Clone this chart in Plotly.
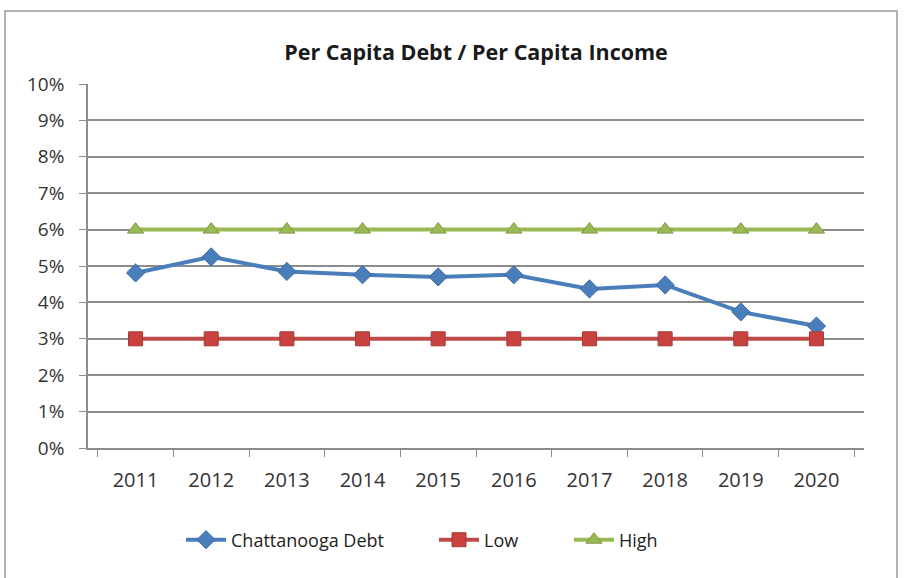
import plotly.graph_objects as go

years = ["2011", "2012", "2013", "2014", "2015", "2016", "2017", "2018", "2019", "2020"]
chattanooga_debt = [0.0481, 0.0525, 0.0485, 0.0476, 0.0470, 0.0476, 0.0437, 0.0448, 0.0374, 0.0335]
low = [0.03] * 10
high = [0.06] * 10

BLUE = "#4A7EBB"
RED = "#BE4B48"
GREEN = "#98B954"
GRID = "#8C8C8C"
FONT = "Open Sans"

W, H = 905, 578
L, R, T, B = 88, 41, 84, 130
PW, PH = W - L - R, H - T - B


def px_x(px):
    return (px - L) / PW


def px_y(py):
    return (H - B - py) / PH


fig = go.Figure()
fig.add_trace(go.Scatter(
    x=years, y=chattanooga_debt, name="Chattanooga Debt", mode="lines+markers",
    line=dict(color=BLUE, width=4), legend="legend",
    marker=dict(symbol="diamond", size=14, color=BLUE, line=dict(color="#3D6AA0", width=1)),
))
fig.add_trace(go.Scatter(
    x=years, y=low, name="Low", mode="lines+markers",
    line=dict(color=RED, width=4), legend="legend2",
    marker=dict(symbol="square", size=14, color="#C9423F", line=dict(color="#A33A37", width=1)),
))
fig.add_trace(go.Scatter(
    x=years, y=high, name="High", mode="lines+markers",
    line=dict(color=GREEN, width=4), legend="legend3",
    marker=dict(symbol="triangle-up", size=14, color=GREEN, line=dict(color="#7E9A45", width=1)),
))

# chart frame drawn around the whole chart area
fig.add_shape(type="rect", xref="paper", yref="paper",
              x0=px_x(5), x1=px_x(897), y0=px_y(580), y1=px_y(11),
              line=dict(color="#9A9A9A", width=1.5), fillcolor="rgba(0,0,0,0)", layer="below")

legend_font = dict(family=FONT, size=18, color="#222222")


def legend_at(px):
    return dict(orientation="h", x=px_x(px), xanchor="left", y=px_y(540), yanchor="middle",
                font=legend_font, bgcolor="rgba(0,0,0,0)", itemwidth=40)


fig.update_layout(
    width=W, height=H,
    margin=dict(l=L, r=R, t=T, b=B),
    paper_bgcolor="white", plot_bgcolor="white",
    title=dict(text="<b>Per Capita Debt / Per Capita Income</b>", xref="paper", x=0.5,
               xanchor="center", y=1 - 52 / H, yanchor="middle",
               font=dict(family=FONT, size=21.5, color="#1A1A1A")),
    font=dict(family=FONT, size=15, color="#333333"),
    showlegend=True,
    legend=legend_at(181),
    legend2=legend_at(434),
    legend3=legend_at(569),
    xaxis=dict(
        type="category", showgrid=False, showline=True, linecolor=GRID, linewidth=1.5,
        ticks="outside", tickson="boundaries", ticklen=7, tickcolor=GRID,
        ticklabelstandoff=13,
        tickfont=dict(family=FONT, size=20, color="#333333"), zeroline=False,
    ),
    yaxis=dict(
        range=[0, 0.10], dtick=0.01, tickformat=".0%", showgrid=True, gridcolor=GRID, gridwidth=1.5,
        showline=True, linecolor=GRID, linewidth=1.5, ticks="outside", ticklen=7, tickcolor=GRID,
        ticklabelstandoff=11,
        tickfont=dict(family=FONT, size=19, color="#333333"), zeroline=False,
    ),
)

fig.write_html("out.html")
